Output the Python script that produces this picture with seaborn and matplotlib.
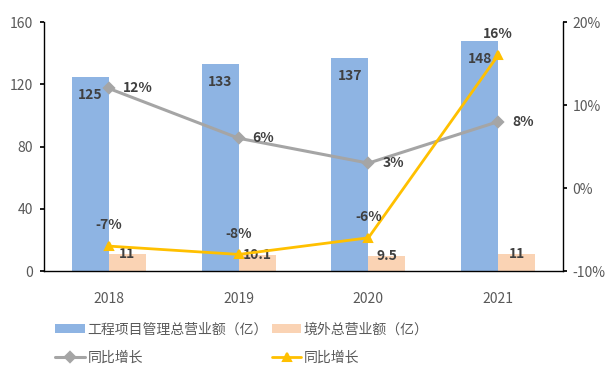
import pandas as pd
import matplotlib.pyplot as plt
import seaborn as sns

# 数据
years = ["2018", "2019", "2020", "2021"]
total_rev = [125, 133, 137, 148]
overseas_rev = [11, 10.1, 9.5, 11]
total_growth = [12, 6, 3, 8]
overseas_growth = [-7, -8, -6, 16]

bar_names = ["工程项目管理总营业额（亿）", "境外总营业额（亿）"]
line_name = "同比增长"

df = pd.DataFrame({
    "年份": years * 2,
    "营业额": total_rev + overseas_rev,
    "系列": [bar_names[0]] * 4 + [bar_names[1]] * 4,
})

sns.set_theme(style="white")
plt.rcParams["font.family"] = ["Noto Sans CJK SC", "DejaVu Sans"]

txt = "#595959"
lab = "#404040"

fig = plt.figure(figsize=(6.16, 3.74), dpi=100)
ax = fig.add_axes([0.0714, 0.2754, 0.8426, 0.6656])

sns.barplot(data=df, x="年份", y="营业额", hue="系列",
            palette=["#8EB4E3", "#FAD3B4"], width=0.57, gap=0,
            saturation=1, linewidth=0, ax=ax)
h_bars, l_bars = ax.get_legend_handles_labels()
ax.get_legend().remove()

ax.set_ylim(0, 160)
ax.set_yticks(range(0, 161, 40))
ax.set_xlim(-0.5, 3.5)
ax.set_xlabel("")
ax.set_ylabel("")

# 柱状图数据标签
for bar in ax.containers[0]:
    ax.annotate(f"{bar.get_height():g}", (bar.get_x() + bar.get_width() / 2, bar.get_height()),
                xytext=(0, -13), textcoords="offset points", ha="center", va="center",
                fontsize=10, fontweight="bold", color=lab)
for bar in ax.containers[1]:
    ax.annotate(f"{bar.get_height():g}", (bar.get_x() + bar.get_width() / 2, bar.get_height()),
                xytext=(0, 0), textcoords="offset points", ha="center", va="center",
                fontsize=10, fontweight="bold", color=lab)

ax2 = ax.twinx()
sns.pointplot(x=years, y=total_growth, color="#A5A5A5", markers="D",
              markersize=5, linewidth=2.2, label=line_name, ax=ax2)
sns.pointplot(x=years, y=overseas_growth, color="#FFC000", markers="^",
              markersize=6, linewidth=2, label=line_name, ax=ax2)
h_lines, l_lines = ax2.get_legend_handles_labels()
if ax2.get_legend() is not None:
    ax2.get_legend().remove()
ax2.set_ylim(-10, 20)
ax2.set_yticks([-10, 0, 10, 20])
ax2.set_yticklabels([f"{v}%" for v in [-10, 0, 10, 20]])
ax2.set_xlim(-0.5, 3.5)
ax2.set_ylabel("")

for i, v in enumerate(total_growth):
    ax2.annotate(f"{v}%", (i, v), xytext=(10, 0), textcoords="offset points",
                 ha="left", va="center", fontsize=10, fontweight="bold", color=lab)
for i, v in enumerate(overseas_growth):
    ax2.annotate(f"{v}%", (i, v), xytext=(0, 15), textcoords="offset points",
                 ha="center", va="center", fontsize=10, fontweight="bold", color=lab)

# 坐标轴样式
for a in (ax, ax2):
    a.spines["top"].set_visible(False)
    for s in a.spines.values():
        s.set_color("black")
        s.set_linewidth(1)
ax.spines["right"].set_visible(False)
ax2.spines["left"].set_visible(False)
ax2.spines["bottom"].set_visible(False)
ax.tick_params(axis="y", left=True, length=3, pad=5, labelsize=10, labelcolor=txt, color="black")
ax.tick_params(axis="x", bottom=False, pad=9, labelsize=10, labelcolor=txt)
ax2.tick_params(axis="y", right=True, length=3, pad=4, labelsize=10, labelcolor=txt, color="black")

handles = [h_bars[0], h_lines[0], h_bars[1], h_lines[1]]
labels = [l_bars[0], l_lines[0], l_bars[1], l_lines[1]]
fig.legend(handles, labels, loc="upper left", bbox_to_anchor=(0.09, 0.138), ncol=2,
           frameon=False, fontsize=10, labelcolor=txt, handlelength=2.1,
           handletextpad=0.2, columnspacing=0.3, labelspacing=1.05, borderpad=0,
           borderaxespad=0)

fig.savefig("out.png", dpi=100)
